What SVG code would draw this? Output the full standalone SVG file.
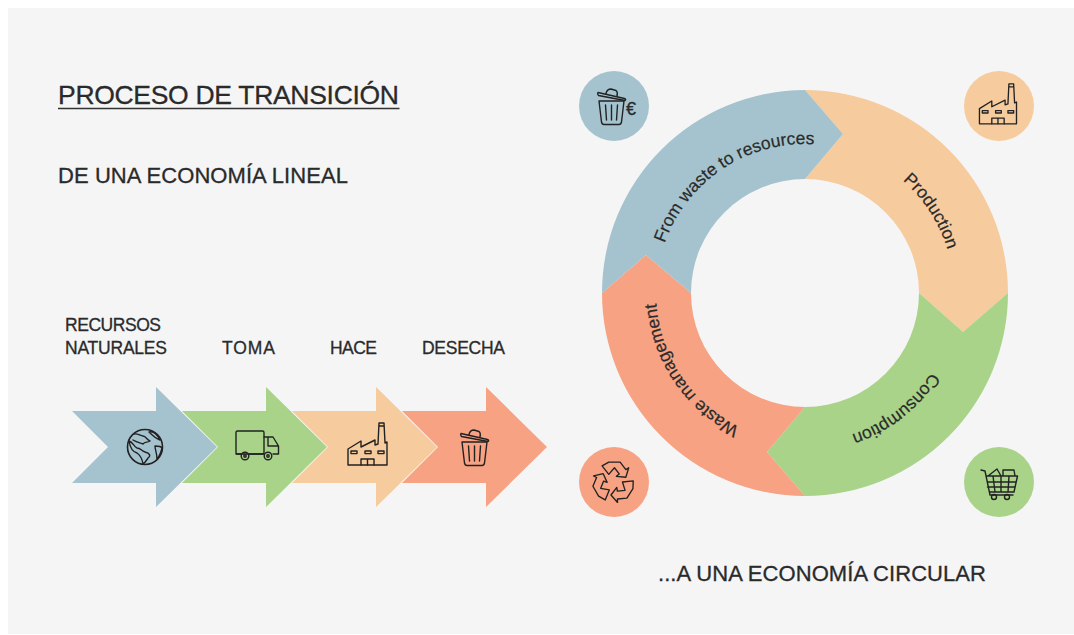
<svg xmlns="http://www.w3.org/2000/svg" width="1074" height="635" viewBox="0 0 1074 635">
<style>
text{font-family:"Liberation Sans",Arial,sans-serif;fill:#2a2a2a;stroke:#2a2a2a;stroke-width:.3px}
.h1{font-size:26.5px}
.h2{font-size:22px}
.lb{font-size:17.5px}
.rt{font-size:17.5px;text-anchor:middle;stroke-width:.2px}
.ic{fill:none;stroke:#222;stroke-width:1.4;stroke-linejoin:round;stroke-linecap:round}
.blue{fill:#a5c3ce}.green{fill:#a8d389}.orange{fill:#f6cb9d}.salmon{fill:#f6a283}
</style>
<defs>
<path id="arc" d="M656,293 A149,149 0 0 1 954,293"/>
<path id="arrow" d="M-84,-36 H0 V-60 L61,0 L0,60 V36 H-84 L-48,0 Z"/>
<g id="factory" class="ic">
<path d="M1,43 V27 L14,19 V25 L28,18 V23 L31,22 L32,1 H37 L38,21 L40,20 V43 Z M32,4 H37"/>
<rect x="4" y="29" width="6" height="2.6"/><rect x="18" y="29" width="6" height="2.6"/><rect x="31" y="29" width="6" height="2.6"/>
<path d="M14,43 V37 H27 V43 M20.5,37 V43"/>
</g>
<g id="trash" class="ic">
<path d="M2,13 H27 L24.5,34 Q24,36.500 22,36.500 H7 Q5,36.500 4.500,34 Z"/>
<path d="M8.500,17 L9.500,32 M14.500,17 V32 M20.500,17 L19.500,32"/>
<path d="M1,4.500 L27.500,10.500 Q29,11 28.500,12 L28,12.500 L1.500,7.500 Q0,6 1,4.500 Z M9,5.500 Q10,1 14,1 L19,2.500 Q21,4 20,8"/>
</g>
</defs>
<rect id="background" x="8" y="8" width="1066" height="626" fill="#f5f5f5"/>

<g id="titles">
<text class="h1" x="58" y="104" textLength="341">PROCESO DE TRANSICIÓN</text>
<line x1="58" y1="108.500" x2="399.500" y2="108.500" stroke="#333" stroke-width="1.600"/>
<text class="h2" x="58" y="183" textLength="290">DE UNA ECONOMÍA LINEAL</text>
<text class="h2" x="658" y="581" textLength="328">...A UNA ECONOMÍA CIRCULAR</text>
</g>

<g id="linear-labels">
<text class="lb" x="65" y="331" textLength="96">RECURSOS</text>
<text class="lb" x="65" y="354" textLength="102">NATURALES</text>
<text class="lb" x="222" y="354" textLength="53">TOMA</text>
<text class="lb" x="330" y="354" textLength="47">HACE</text>
<text class="lb" x="422" y="354" textLength="83">DESECHA</text>
</g>

<g id="linear-desecha"><use href="#arrow" x="486" y="447" class="salmon"/><use href="#trash" x="460" y="429"/></g>
<g id="linear-hace"><use href="#arrow" x="376" y="447" class="orange"/><use href="#factory" x="347" y="422"/></g>
<g id="linear-toma"><use href="#arrow" x="266" y="447" class="green"/>
<g class="ic"><rect x="236" y="431" width="28" height="23" rx="1.500"/><path d="M264,437 H273 L278.500,446 V454 H273 M264,454 H249 M241,454 H236 M268,437.500 V446 H278"/><circle cx="245" cy="456" r="3.800"/><circle cx="245" cy="456" r="1.200"/><circle cx="268" cy="456" r="3.800"/><circle cx="268" cy="456" r="1.200"/></g></g>
<g id="linear-recursos"><use href="#arrow" x="156" y="447" class="blue"/>
<g class="ic"><circle cx="145" cy="447" r="17.500" stroke-width="1.600"/>
<path d="M134,434 C138,433 140,436 143,436 C146,436 147,440 150,441 C147,443 145,441 143,444 C140,443 136,442 133,440 M129,441 C133,442 134,447 137,448 C141,448 141,451 145,452 C150,453 151,456 148,458 C146,461 145,463 143,464 C142,458 140,455 137,453 C133,452 130,447 129,441 Z M149,432 C153,431 157,434 160,440 C157,439 153,436 149,432 Z M155,446 C157,446 161,446 162,448 C161,452 160,456 157,459 C157,453 155,450 155,446 Z"/></g></g>

<g id="ring">
<g id="seg-production">
<path class="orange" d="M805,90 A203,203 0 0 1 1008,293 L963,332 L919,293 A114,114 0 0 0 805,179 L843,134 Z"/>
</g>
<g id="seg-consumption">
<path class="green" d="M1008,293 A203,203 0 0 1 805,496 L767,452 L805,407 A114,114 0 0 0 919,293 L963,332 Z"/>
</g>
<g id="seg-waste">
<path class="salmon" d="M805,496 A203,203 0 0 1 602,293 L646,255 L691,293 A114,114 0 0 0 805,407 L767,452 Z"/>
</g>
<g id="seg-resources">
<path class="blue" d="M602,293 A203,203 0 0 1 805,90 L843,134 L805,179 A114,114 0 0 0 691,293 L646,255 Z"/>
</g>
<g transform="rotate(-33.500 805 293)"><text class="rt"><textPath href="#arc" startOffset="50%">From waste to resources</textPath></text></g>
<g transform="rotate(57 805 293)"><text class="rt"><textPath href="#arc" startOffset="50%">Production</textPath></text></g>
<g transform="rotate(142 805 293)"><text class="rt"><textPath href="#arc" startOffset="50%">Consumption</textPath></text></g>
<g transform="rotate(236 805 293)"><text class="rt"><textPath href="#arc" startOffset="50%">Waste management</textPath></text></g>
</g>

<g id="badge-resources"><circle cx="614" cy="106" r="35" class="blue"/><use href="#trash" x="597" y="88"/><text x="626" y="115" font-size="18">€</text></g>
<g id="badge-production"><circle cx="999" cy="106" r="35" class="orange"/><use href="#factory" transform="translate(978.500 83) scale(.95)"/></g>
<g id="badge-waste"><circle cx="614" cy="482" r="35" class="salmon"/>
<g class="ic" transform="translate(613.500 482) scale(.95)">
<path d="M-12,-17 L-5,-21 H7 L13,-13 L16,-15 L13,-5 L3,-6 L6,-8.500 L1,-15 L-5,-8 Z"/>
<path d="M-12,-17 L-5,-21 H7 L13,-13 L16,-15 L13,-5 L3,-6 L6,-8.500 L1,-15 L-5,-8 Z" transform="rotate(122)"/>
<path d="M-12,-17 L-5,-21 H7 L13,-13 L16,-15 L13,-5 L3,-6 L6,-8.500 L1,-15 L-5,-8 Z" transform="rotate(240)"/>
</g></g>
<g id="badge-consumption"><circle cx="999" cy="482" r="35" class="green"/>
<g class="ic"><path d="M981,470 L985,471 L990,495 H1013 M986,476 H1017.500 L1014,492 H989.500 M988,482 H1016 M987.500,487 H1015 M993,476 L995,492 M1001,476 V492 M1009,476 L1008,492 M988,476 L997,469 L1001,476 M1003,476 V470 H1014 L1015,476"/><circle cx="994" cy="497" r="2.500"/><circle cx="1007" cy="497" r="2.500"/></g></g>
</svg>
